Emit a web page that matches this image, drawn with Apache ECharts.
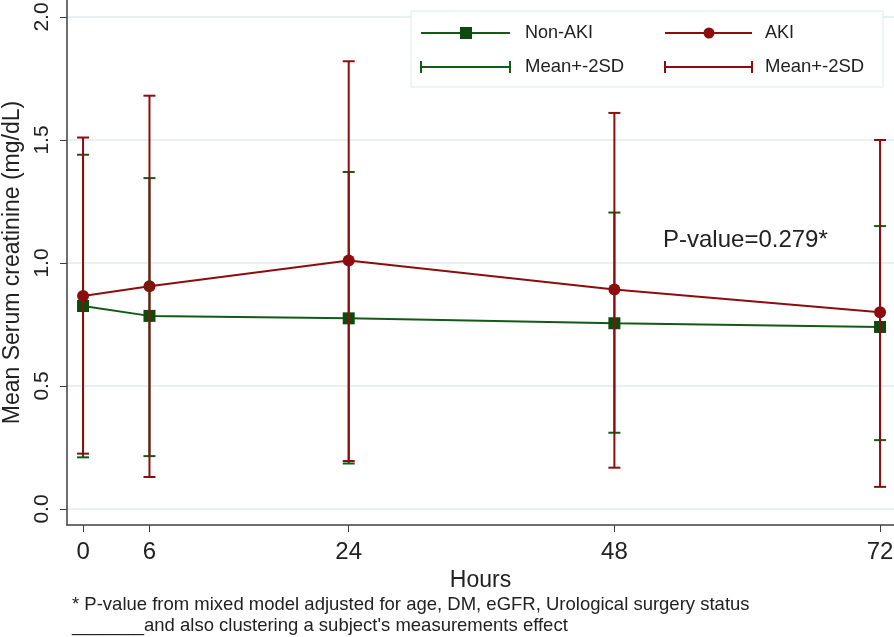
<!DOCTYPE html>
<html>
<head>
<meta charset="utf-8">
<script src="https://cdn.jsdelivr.net/npm/echarts@6/dist/echarts.min.js"></script>
<style>
  html, body { margin: 0; padding: 0; background: #fff; }
  #chart { width: 894px; height: 637px; }
</style>
</head>
<body>
<div id="chart"></div>
<script>
var hours = [0, 6, 24, 48, 72];
var yTicks = [0, 0.5, 1, 1.5, 2];

var nonAkiMean = [0.825, 0.785, 0.775, 0.755, 0.74];
var nonAkiLow  = [0.21, 0.215, 0.185, 0.31, 0.28];
var nonAkiHigh = [1.44, 1.345, 1.37, 1.205, 1.15];

var akiMean = [0.866, 0.905, 1.01, 0.892, 0.80];
var akiLow  = [0.225, 0.13, 0.195, 0.168, 0.09];
var akiHigh = [1.51, 1.68, 1.82, 1.61, 1.50];

var green = '#125a16';
var red = '#8b0d0d';
var font = 'Liberation Sans, Arial, sans-serif';

function pairs(ys) {
  return hours.map(function (h, i) { return [h, ys[i]]; });
}
function ranges(lo, hi) {
  return hours.map(function (h, i) { return [h, lo[i], hi[i]]; });
}

function errBar(color) {
  return function (params, api) {
    var x = api.value(0);
    var lo = api.coord([x, api.value(1)]);
    var hi = api.coord([x, api.value(2)]);
    var w = 6;
    var st = { stroke: color, lineWidth: 2 };
    return {
      type: 'group',
      children: [
        { type: 'line', shape: { x1: lo[0], y1: lo[1], x2: hi[0], y2: hi[1] }, style: st },
        { type: 'line', shape: { x1: lo[0] - w, y1: lo[1], x2: lo[0] + w, y2: lo[1] }, style: st },
        { type: 'line', shape: { x1: hi[0] - w, y1: hi[1], x2: hi[0] + w, y2: hi[1] }, style: st }
      ]
    };
  };
}

var chart = echarts.init(document.getElementById('chart'));

var option = {
  animation: false,
  backgroundColor: '#fff',
  grid: { left: 67, right: 0, top: 0, bottom: 112, containLabel: false, outerBoundsMode: 'none' },
  xAxis: {
    type: 'value',
    min: -1.45,
    max: 73.26,
    name: 'Hours',
    nameLocation: 'middle',
    nameGap: 40,
    nameTextStyle: { fontSize: 23, color: '#222', fontFamily: font },
    axisLine: { show: true, onZero: false, lineStyle: { color: '#404040', width: 1.5 } },
    axisTick: { show: true, length: 7, customValues: hours, lineStyle: { color: '#404040' } },
    axisLabel: { customValues: hours, fontSize: 24, color: '#222', margin: 15, fontFamily: font },
    splitLine: { show: false }
  },
  yAxis: {
    type: 'value',
    min: -0.065,
    max: 2.069,
    name: 'Mean Serum creatinine (mg/dL)',
    nameLocation: 'middle',
    nameGap: 42,
    nameTextStyle: { fontSize: 23, color: '#222', fontFamily: font },
    axisLine: { show: true, onZero: false, lineStyle: { color: '#404040', width: 1.5 } },
    axisTick: { show: true, length: 7, customValues: yTicks, lineStyle: { color: '#404040' } },
    axisLabel: {
      customValues: yTicks,
      rotate: 90,
      fontSize: 21,
      color: '#222',
      margin: 14,
      fontFamily: font,
      formatter: function (v) { return v.toFixed(1); }
    },
    splitLine: { show: true, lineStyle: { color: '#e0ebef', width: 1.5 } }
  },
  series: [
    {
      name: 'Non-AKI',
      type: 'line',
      data: pairs(nonAkiMean),
      symbol: 'rect',
      symbolSize: 12,
      itemStyle: { color: '#0c4a0e' },
      lineStyle: { color: green, width: 2 },
      z: 2
    },
    {
      name: 'AKI',
      type: 'line',
      data: pairs(akiMean),
      symbol: 'circle',
      symbolSize: 12,
      itemStyle: { color: red },
      lineStyle: { color: red, width: 2 },
      z: 3
    },
    {
      name: 'Non-AKI Mean+-2SD',
      type: 'custom',
      renderItem: errBar(green),
      data: ranges(nonAkiLow, nonAkiHigh),
      z: 4
    },
    {
      name: 'AKI Mean+-2SD',
      type: 'custom',
      renderItem: errBar(red),
      data: ranges(akiLow, akiHigh),
      z: 5
    }
  ],
  graphic: [
    {
      type: 'rect', z: 100,
      shape: { x: 411, y: 11, width: 472, height: 76 },
      style: { fill: '#fff', stroke: '#dfe8ec', lineWidth: 1 }
    },
    { type: 'line', z: 101, shape: { x1: 421, y1: 33, x2: 510, y2: 33 }, style: { stroke: green, lineWidth: 2 } },
    { type: 'rect', z: 102, shape: { x: 460, y: 27, width: 12, height: 12 }, style: { fill: '#0c4a0e' } },
    { type: 'text', z: 101, x: 525, y: 33, style: { text: 'Non-AKI', fill: '#222', font: '18px ' + font, verticalAlign: 'middle' } },
    { type: 'line', z: 101, shape: { x1: 665, y1: 33, x2: 752, y2: 33 }, style: { stroke: red, lineWidth: 2 } },
    { type: 'circle', z: 102, shape: { cx: 709, cy: 33, r: 5.5 }, style: { fill: red } },
    { type: 'text', z: 101, x: 765, y: 33, style: { text: 'AKI', fill: '#222', font: '18px ' + font, verticalAlign: 'middle' } },

    { type: 'line', z: 101, shape: { x1: 421, y1: 67, x2: 510, y2: 67 }, style: { stroke: green, lineWidth: 2 } },
    { type: 'line', z: 101, shape: { x1: 421, y1: 61, x2: 421, y2: 73 }, style: { stroke: green, lineWidth: 2 } },
    { type: 'line', z: 101, shape: { x1: 510, y1: 61, x2: 510, y2: 73 }, style: { stroke: green, lineWidth: 2 } },
    { type: 'text', z: 101, x: 525, y: 67, style: { text: 'Mean+-2SD', fill: '#222', font: '18.5px ' + font, verticalAlign: 'middle' } },
    { type: 'line', z: 101, shape: { x1: 665, y1: 67, x2: 752, y2: 67 }, style: { stroke: red, lineWidth: 2 } },
    { type: 'line', z: 101, shape: { x1: 665, y1: 61, x2: 665, y2: 73 }, style: { stroke: red, lineWidth: 2 } },
    { type: 'line', z: 101, shape: { x1: 752, y1: 61, x2: 752, y2: 73 }, style: { stroke: red, lineWidth: 2 } },
    { type: 'text', z: 101, x: 765, y: 67, style: { text: 'Mean+-2SD', fill: '#222', font: '18.5px ' + font, verticalAlign: 'middle' } },

    { type: 'text', z: 101, x: 663, y: 240, style: { text: 'P-value=0.279*', fill: '#222', font: '24px ' + font, verticalAlign: 'middle' } },

    { type: 'text', z: 101, x: 72, y: 605, style: { text: "* P-value from mixed model adjusted for age, DM, eGFR, Urological surgery status", fill: '#222', font: '18.5px ' + font, verticalAlign: 'middle' } },
    { type: 'text', z: 101, x: 72, y: 626, style: { text: "_______and also clustering a subject's measurements effect", fill: '#222', font: '18.5px ' + font, verticalAlign: 'middle' } }
  ]
};

chart.setOption(option);
</script>
</body>
</html>
